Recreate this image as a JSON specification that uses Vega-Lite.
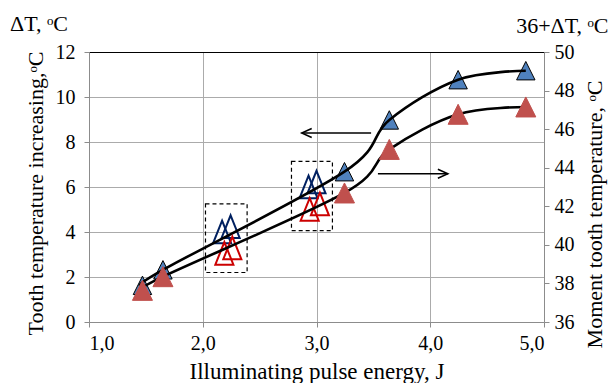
{
  "$schema": "https://vega.github.io/schema/vega-lite/v6.json",
  "width": 455,
  "height": 270,
  "autosize": "none",
  "padding": {"left": 89, "top": 52, "right": 68, "bottom": 61},
  "background": "white",
  "config": {
    "view": {"stroke": null},
    "font": "Liberation Serif",
    "axis": {
      "labelFont": "serif",
      "titleFont": "Liberation Serif",
      "labelColor": "#000",
      "titleColor": "#000",
      "titleFontWeight": "normal",
      "labelFontSize": 20,
      "titleFontSize": 22,
      "domainColor": "#8C8C8C",
      "tickColor": "#8C8C8C",
      "gridColor": "#ABABAB",
      "gridWidth": 1,
      "tickSize": 5
    },
    "axisX": {"labelFont": "serif"},
    "axisY": {"labelFont": "serif"},
    "axisLeft": {"labelFont": "serif"},
    "axisRight": {"labelFont": "serif"},
    "axisBottom": {"labelFont": "serif"},
    "axisQuantitative": {"labelFont": "serif"}
  },
  "title": {
    "text": "ΔT, ᵒC",
    "anchor": "start",
    "frame": "group",
    "dx": -79,
    "offset": -22,
    "fontSize": 22,
    "fontWeight": "normal",
    "font": "Liberation Serif",
    "color": "#000"
  },
  "datasets": {
    "series": [
      {"E": 1.47, "dT": 1.63, "T": 37.64},
      {"E": 1.65, "dT": 2.32, "T": 38.35},
      {"E": 3.246, "dT": 6.68, "T": 42.69},
      {"E": 3.64, "dT": 8.98, "T": 44.95},
      {"E": 4.245, "dT": 10.77, "T": 46.77},
      {"E": 4.84, "dT": 11.17, "T": 47.15}
    ],
    "hollowBlue": [
      {"E": 2.17, "dT": 4.0},
      {"E": 2.245, "dT": 4.24},
      {"E": 2.93, "dT": 6.0},
      {"E": 3.0, "dT": 6.22}
    ],
    "hollowRed": [
      {"E": 2.19, "T": 39.56},
      {"E": 2.26, "T": 39.84},
      {"E": 2.94, "T": 41.84},
      {"E": 3.03, "T": 42.12}
    ],
    "boxes": [
      {"E": 2.024, "E2": 2.39, "dT": 2.2, "dT2": 5.25},
      {"E": 2.78, "E2": 3.14, "dT": 4.06, "dT2": 7.14}
    ],
    "arrows": [
      {"E": 2.87, "E2": 3.48, "dT": 8.4, "dir": "left"},
      {"E": 4.155, "E2": 3.54, "dT": 6.59, "dir": "right"}
    ]
  },
  "layer": [
    {
      "encoding": {
        "x": {
          "field": "E",
          "type": "quantitative",
          "scale": {"domain": [1, 5], "nice": false, "zero": false},
          "title": "Illuminating pulse energy, J",
          "axis": {
            "orient": "bottom",
            "values": [1, 2, 3, 4, 5],
            "labelExpr": "replace(format(datum.value, '.1f'), '.', ',')",
            "grid": true,
            "labelFont": "serif",
            "labelFontSize": 20,
            "labelPadding": 6,
            "titleFontSize": 23,
            "titlePadding": 7
          }
        },
        "y": {
          "field": "dT",
          "type": "quantitative",
          "scale": {"domain": [0, 12], "nice": false, "zero": false},
          "title": "Tooth temperature increasing,ᵒC",
          "axis": {
            "orient": "left",
            "values": [0, 2, 4, 6, 8, 10, 12],
            "grid": true,
            "labelFont": "serif",
            "labelFontSize": 20,
            "labelPadding": 9,
            "titlePadding": 8,
            "titleY": 141
          }
        }
      },
      "layer": [
        {
          "data": {"name": "boxes"},
          "mark": {"type": "rect", "fill": null, "stroke": "#000", "strokeDash": [4, 3], "strokeWidth": 1.2},
          "encoding": {"x2": {"field": "E2"}, "y2": {"field": "dT2"}}
        },
        {
          "data": {"name": "arrows"},
          "mark": {"type": "rule", "stroke": "#000", "strokeWidth": 1.5},
          "encoding": {"x2": {"field": "E2"}}
        },
        {
          "data": {"name": "arrows"},
          "transform": [{"filter": "datum.dir == 'left'"}],
          "mark": {"type": "point", "shape": "M1,-0.45L0,0L1,0.45", "filled": false, "stroke": "#000", "strokeWidth": 1.5, "size": 400, "opacity": 1}
        },
        {
          "data": {"name": "arrows"},
          "transform": [{"filter": "datum.dir == 'right'"}],
          "mark": {"type": "point", "shape": "M-1,-0.45L0,0L-1,0.45", "filled": false, "stroke": "#000", "strokeWidth": 1.5, "size": 400, "opacity": 1}
        },
        {
          "data": {"name": "hollowBlue"},
          "mark": {"type": "point", "shape": "M0,-1L0.8,1L-0.8,1Z", "filled": false, "stroke": "#002060", "strokeWidth": 2, "size": 510, "opacity": 1}
        },
        {
          "data": {"name": "series"},
          "mark": {"type": "point", "shape": "M0,-1L1,1L-1,1Z", "filled": true, "fill": "#4F81BD", "stroke": "#000", "strokeWidth": 1, "size": 340, "opacity": 1}
        },
        {
          "data": {"name": "series"},
          "mark": {"type": "line", "interpolate": "cardinal", "stroke": "#000", "strokeWidth": 2.6}
        }
      ]
    },
    {
      "encoding": {
        "x": {
          "field": "E",
          "type": "quantitative",
          "scale": {"domain": [1, 5], "nice": false, "zero": false},
          "title": "36+ΔT, ᵒC",
          "axis": {
            "orient": "top",
            "labels": false,
            "ticks": false,
            "grid": false,
            "domain": true,
            "domainColor": "#000",
            "domainWidth": 1,
            "titleAnchor": "end",
            "titleAlign": "right",
            "titleAngle": 0,
            "titleBaseline": "alphabetic",
            "titleX": 519,
            "titleY": -20,
            "titleFontSize": 22
          }
        },
        "y": {
          "field": "T",
          "type": "quantitative",
          "scale": {"domain": [36, 50], "nice": false, "zero": false},
          "title": "Moment tooth temperature, ᵒC",
          "axis": {
            "orient": "right",
            "values": [36, 38, 40, 42, 44, 46, 48, 50],
            "grid": false,
            "labelFont": "serif",
            "labelFontSize": 20,
            "labelPadding": 5,
            "titleAngle": 270,
            "titleAlign": "center",
            "titleBaseline": "middle",
            "titleX": 50,
            "titleY": 162
          }
        }
      },
      "layer": [
        {
          "data": {"name": "hollowRed"},
          "mark": {"type": "point", "shape": "M0,-1L0.8,1L-0.8,1Z", "filled": false, "stroke": "#CC0000", "strokeWidth": 2, "size": 510, "opacity": 1}
        },
        {
          "data": {"name": "series"},
          "mark": {"type": "line", "interpolate": "cardinal", "stroke": "#000", "strokeWidth": 2.6}
        },
        {
          "data": {"name": "series"},
          "mark": {"type": "point", "shape": "M0,-1L1,1L-1,1Z", "filled": true, "fill": "#C0504D", "stroke": "#C0504D", "strokeWidth": 1, "size": 400, "opacity": 1}
        }
      ]
    }
  ],
  "resolve": {"scale": {"y": "independent"}, "axis": {"x": "independent"}}
}
